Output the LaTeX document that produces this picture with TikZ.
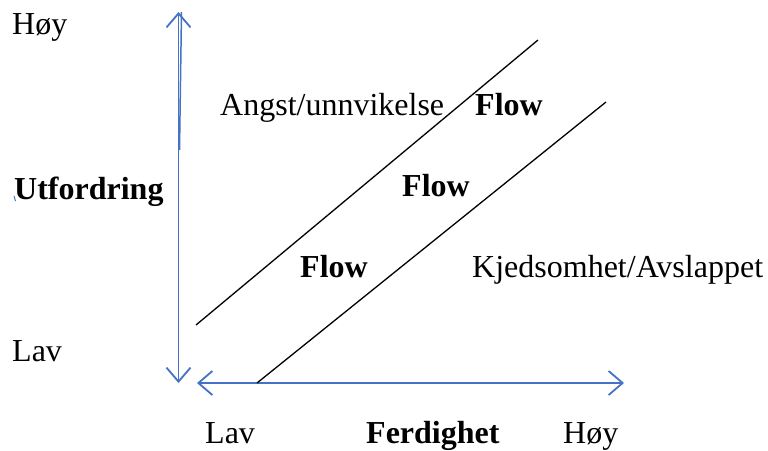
\documentclass[tikz,border=0pt]{standalone}
\usepackage{fontspec}
\setmainfont{Liberation Serif}
\usetikzlibrary{arrows.meta}
\definecolor{axisblue}{RGB}{68,114,196}
\begin{document}
\begin{tikzpicture}[x=1pt,y=-1pt,
  lbl/.style={anchor=base west,inner sep=0pt,font=\fontsize{32}{38}\selectfont},
  blbl/.style={lbl,font=\fontsize{32}{38}\selectfont\bfseries},
  axis/.style={draw=axisblue,line width=1.8pt,{Straight Barb[length=14pt,width=24pt,line width=1.8pt]}-{Straight Barb[length=14pt,width=24pt,line width=1.8pt]}},
  band/.style={draw=black,line width=1.3pt}]
\useasboundingbox (0,0) rectangle (768,450);
% axes
\coordinate (vtop) at (178.5,12);
\coordinate (vbot) at (178.5,383);
\coordinate (vtop2) at (181.5,12);
\coordinate (vmid2) at (179.5,150);
\coordinate (hl) at (197,383);
\coordinate (hr) at (624,383);
\draw[axis] (vbot) -- (vtop);
\draw[draw=axisblue,line width=1.5pt] (vmid2) -- (vtop2);
\draw[axis] (hl) -- (hr);
% flow band lines
\coordinate (a1) at (196,325);
\coordinate (a2) at (538,40);
\coordinate (b1) at (257,383);
\coordinate (b2) at (606,102);
\draw[band] (a1) -- (a2);
\draw[band] (b1) -- (b2);
% small blue tick
\coordinate (t1) at (14,196);
\coordinate (t2) at (15.5,201);
\draw[axisblue,line width=1pt] (t1) -- (t2);
% labels
\node[lbl] (hoyY) at (12,34) {Høy};
\node[blbl] (utf) at (14,199) {Utfordring};
\node[lbl] (lavY) at (12,361) {Lav};
\node[lbl] (angst) at (220,115) {Angst/unnvikelse};
\node[blbl] (flow1) at (475,115) {Flow};
\node[blbl] (flow2) at (402,196) {Flow};
\node[blbl] (flow3) at (300,277) {Flow};
\node[lbl] (kjed) at (472,277) {Kjedsomhet/Avslappet};
\node[lbl] (lavX) at (205,443) {Lav};
\node[blbl] (ferd) at (366,443) {Ferdighet};
\node[lbl] (hoyX) at (563,443) {Høy};
\end{tikzpicture}
\end{document}
